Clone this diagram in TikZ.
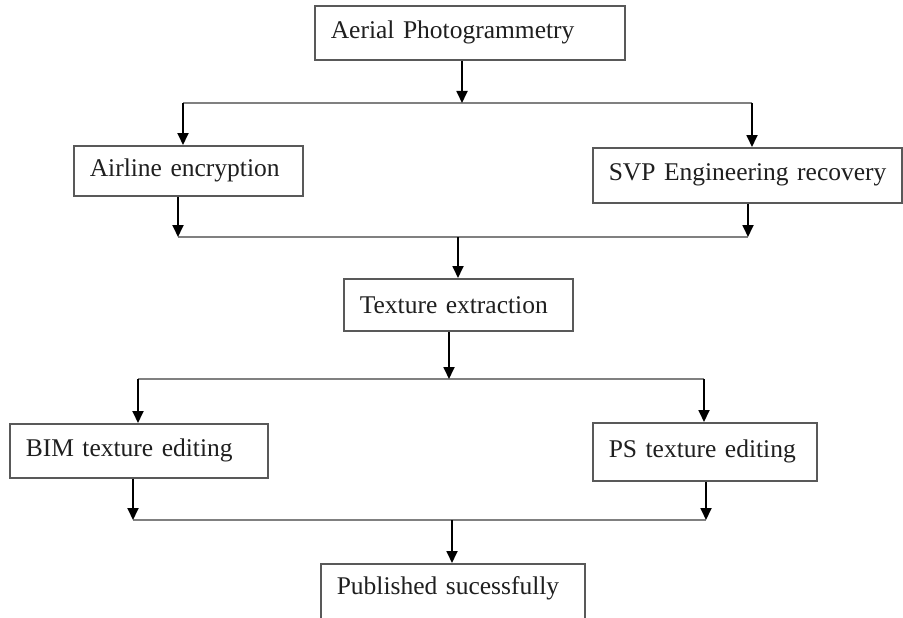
\documentclass[tikz,border=0pt]{standalone}
\usepackage{fontspec}
\setmainfont{Liberation Serif}
\usetikzlibrary{arrows.meta}

\tikzset{
  stage/.style={draw=black!65, line width=1.6pt, anchor=north west, align=left,
    inner xsep=16pt, inner ysep=0pt, font=\fontsize{25.5}{30}\selectfont, text=black!88},
  flow/.style={line width=1.8pt, -{Triangle[width=11pt,length=12pt]}},
  bus/.style={draw=black!50, line width=1.8pt}
}

\begin{document}
\begin{tikzpicture}[x=1pt,y=-1pt]
\useasboundingbox (0,0) rectangle (903,618);
\clip (0,0) rectangle (903,618);
\fill[white] (0,0) rectangle (903,618);

% boxes
\node[stage, text width=278pt, minimum height=54pt] (aer) at (314,5) {Aerial Photogrammetry};
\node[stage, text width=197pt, minimum height=50pt] (air) at (73,145) {Airline encryption};
\node[stage, text width=277pt, minimum height=55pt] (svp) at (592,147) {\mbox{SVP Engineering recovery}};
\node[stage, text width=197pt, minimum height=52pt] (tex) at (343,278) {Texture extraction};
\node[stage, text width=226pt, minimum height=54pt] (bim) at (9,423) {BIM texture editing};
\node[stage, text width=192pt, minimum height=58pt] (ps) at (592,422) {PS texture editing};
\node[stage, text width=232pt, text height=31pt, text depth=30pt] (pub) at (320,563) {Published sucessfully};

% junctions on the bus lines
\coordinate (j1) at (462,103);
\coordinate (b1w) at (183,103);
\coordinate (b1e) at (752,103);
\coordinate (b2w) at (178,237);
\coordinate (b2e) at (748,237);
\coordinate (j2) at (458,237);
\coordinate (j3) at (449,379);
\coordinate (b3w) at (138,379);
\coordinate (b3e) at (704,379);
\coordinate (b4w) at (133,520);
\coordinate (b4e) at (706,520);
\coordinate (j4) at (452,520);

\draw[bus] (b1w) -- (b1e);
\draw[bus] (b2w) -- (b2e);
\draw[bus] (b3w) -- (b3e);
\draw[bus] (b4w) -- (b4e);

% arrows
\draw[flow] (j1 |- aer.south) -- (j1);
\draw[flow] (b1w) -- (b1w |- air.north);
\draw[flow] (b1e) -- (b1e |- svp.north);
\draw[flow] (b2w |- air.south) -- (b2w);
\draw[flow] (b2e |- svp.south) -- (b2e);
\draw[flow] (j2) -- (j2 |- tex.north);
\draw[flow] (j3 |- tex.south) -- (j3);
\draw[flow] (b3w) -- (b3w |- bim.north);
\draw[flow] (b3e) -- (b3e |- ps.north);
\draw[flow] (b4w |- bim.south) -- (b4w);
\draw[flow] (b4e |- ps.south) -- (b4e);
\draw[flow] (j4) -- (j4 |- pub.north);
\end{tikzpicture}
\end{document}
